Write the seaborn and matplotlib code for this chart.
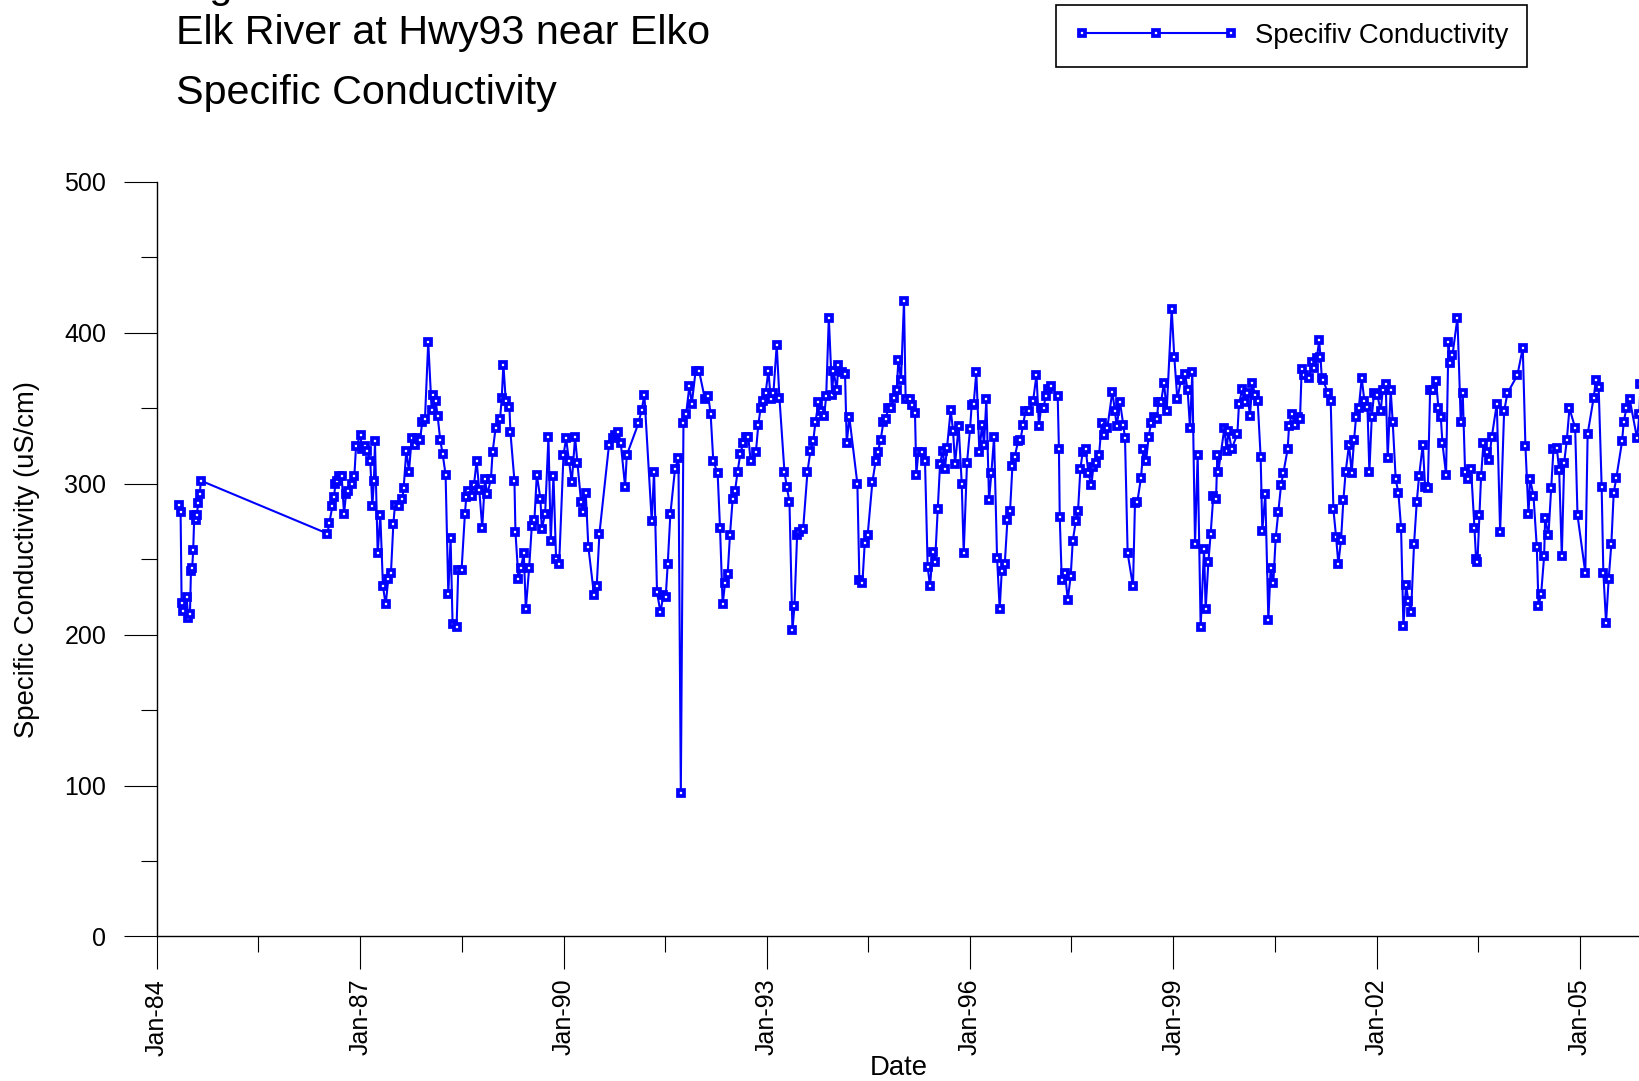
import matplotlib
matplotlib.use("Agg")
import matplotlib.pyplot as plt
import matplotlib.dates as mdates
from matplotlib.ticker import MultipleLocator, FixedLocator
import seaborn as sns
import pandas as pd

# sample dates as decimal years, values in uS/cm
years_84_88 = [1984.330, 1984.349, 1984.364, 1984.389, 1984.438, 1984.462, 1984.487, 1984.502, 1984.520, 1984.535,
               1984.551, 1984.570, 1984.585, 1984.610, 1984.630, 1984.650,
               1986.514, 1986.543, 1986.588, 1986.612, 1986.632, 1986.656, 1986.691, 1986.725, 1986.760, 1986.789,
               1986.824, 1986.873, 1986.912, 1986.937, 1987.006, 1987.020, 1987.070, 1987.104, 1987.148, 1987.178,
               1987.202, 1987.217, 1987.257, 1987.296, 1987.335, 1987.375, 1987.414, 1987.453, 1987.488, 1987.512,
               1987.576, 1987.621, 1987.640, 1987.680, 1987.719, 1987.758, 1987.808, 1987.837, 1987.881, 1987.916,
               1987.955, 1988.004, 1988.054, 1988.078, 1988.113, 1988.142, 1988.181, 1988.216, 1988.260, 1988.300,
               1988.334, 1988.363]
cond_84_88 = [286, 281, 221, 216, 225, 211, 214, 242, 244, 256,
              279, 276, 279, 287, 293, 302,
              267, 274, 285, 291, 300, 302, 305, 305, 280, 293,
              295, 300, 305, 325, 332, 323, 325, 322, 315, 285,
              302, 328, 254, 279, 232, 220, 237, 241, 273, 286,
              285, 290, 297, 322, 308, 330, 326, 330, 329, 341,
              343, 394, 349, 359, 355, 345, 329, 320, 306, 227,
              264, 207]

years_88_92 = [1988.422, 1988.447, 1988.496, 1988.545, 1988.565, 1988.595, 1988.644, 1988.678, 1988.718, 1988.757,
               1988.801, 1988.841, 1988.875, 1988.929, 1988.954, 1988.998, 1989.062, 1989.087, 1989.111, 1989.146,
               1989.200, 1989.215, 1989.274, 1989.289, 1989.333, 1989.368, 1989.412, 1989.442, 1989.491, 1989.530,
               1989.569, 1989.604, 1989.658, 1989.678, 1989.727, 1989.776, 1989.810, 1989.850, 1989.889, 1989.934,
               1989.998, 1990.037, 1990.081, 1990.121, 1990.170, 1990.204, 1990.258, 1990.293, 1990.327, 1990.366,
               1990.450, 1990.489, 1990.529, 1990.671, 1990.726, 1990.760, 1990.809, 1990.844, 1990.908, 1990.933,
               1991.105, 1991.154, 1991.193, 1991.302, 1991.336, 1991.380, 1991.430, 1991.474, 1991.508, 1991.538,
               1991.577, 1991.646, 1991.696, 1991.731, 1991.770, 1991.809, 1991.858, 1991.893, 1991.950, 1992.000,
               1992.088, 1992.138, 1992.172, 1992.211, 1992.275, 1992.310, 1992.349, 1992.384, 1992.423, 1992.457,
               1992.497, 1992.531, 1992.570, 1992.610, 1992.654, 1992.689, 1992.728, 1992.762]
cond_88_92 = [205, 243, 243, 280, 291, 295, 292, 299, 315, 296,
              271, 303, 293, 303, 321, 337, 343, 357, 379, 355,
              351, 334, 302, 268, 237, 244, 254, 217, 244, 272,
              276, 306, 290, 270, 280, 331, 262, 305, 250, 247,
              319, 330, 315, 301, 331, 314, 288, 281, 294, 258,
              226, 232, 267, 326, 330, 332, 334, 327, 298, 319,
              340, 349, 359, 275, 308, 228, 215, 226, 225, 247,
              280, 310, 317, 95, 340, 346, 365, 353, 375, 375,
              356, 358, 346, 315, 307, 271, 220, 234, 240, 266,
              290, 295, 308, 320, 327, 331, 331, 315]

years_92_97 = [1992.840, 1992.875, 1992.909, 1992.944, 1992.983, 1993.022, 1993.057, 1993.096, 1993.145, 1993.185,
               1993.259, 1993.293, 1993.333, 1993.377, 1993.407, 1993.446, 1993.481, 1993.535, 1993.599, 1993.643,
               1993.683, 1993.717, 1993.761, 1993.801, 1993.845, 1993.875, 1993.914, 1993.963, 1993.983, 1994.032,
               1994.055, 1994.115, 1994.154, 1994.179, 1994.218, 1994.336, 1994.366, 1994.410, 1994.445, 1994.488,
               1994.557, 1994.606, 1994.636, 1994.680, 1994.720, 1994.754, 1994.793, 1994.833, 1994.872, 1994.917,
               1994.941, 1994.980, 1995.025, 1995.049, 1995.113, 1995.148, 1995.187, 1995.207, 1995.237, 1995.286,
               1995.335, 1995.374, 1995.409, 1995.448, 1995.483, 1995.522, 1995.557, 1995.596, 1995.630, 1995.660,
               1995.714, 1995.749, 1995.778, 1995.832, 1995.877, 1995.906, 1995.955, 1996.000, 1996.024, 1996.054,
               1996.093, 1996.138, 1996.177, 1996.207, 1996.241, 1996.281, 1996.315, 1996.355, 1996.399, 1996.438,
               1996.468, 1996.513, 1996.552, 1996.591, 1996.626, 1996.660, 1996.709, 1996.744, 1996.783, 1996.818,
               1996.867, 1996.931, 1996.981, 1997.015, 1997.045, 1997.084, 1997.113, 1997.153, 1997.192]
cond_92_97 = [321, 339, 350, 355, 360, 375, 356, 360, 392, 357,
              308, 298, 288, 203, 219, 266, 268, 270, 308, 322,
              328, 341, 354, 348, 345, 358, 410, 359, 375, 362,
              379, 374, 373, 327, 344, 300, 236, 234, 261, 266,
              301, 315, 321, 329, 341, 343, 350, 350, 357, 362,
              382, 369, 421, 356, 356, 352, 347, 306, 321, 321,
              315, 245, 232, 255, 248, 283, 313, 322, 310, 324,
              349, 335, 313, 338, 300, 254, 314, 336, 352, 353,
              374, 321, 339, 326, 356, 289, 307, 331, 251, 217,
              242, 247, 276, 282, 312, 318, 328, 329, 339, 348,
              348, 355, 372, 338, 350, 350, 358, 363, 365]

years_97_01 = [1997.292, 1997.310, 1997.322, 1997.352, 1997.401, 1997.440, 1997.484, 1997.514, 1997.558, 1997.592,
               1997.627, 1997.661, 1997.705, 1997.745, 1997.789, 1997.818, 1997.863, 1997.902, 1997.941, 1997.981,
               1998.025, 1998.099, 1998.138, 1998.163, 1998.212, 1998.261, 1998.286, 1998.325, 1998.404, 1998.433,
               1998.468, 1998.522, 1998.557, 1998.596, 1998.635, 1998.670, 1998.709, 1998.758, 1998.778, 1998.817,
               1998.862, 1998.901, 1998.975, 1999.014, 1999.059, 1999.113, 1999.172, 1999.211, 1999.246, 1999.280,
               1999.320, 1999.359, 1999.403, 1999.453, 1999.477, 1999.517, 1999.551, 1999.590, 1999.630, 1999.650,
               1999.664, 1999.753, 1999.787, 1999.812, 1999.861, 1999.945, 1999.969, 2000.019, 2000.058, 2000.092,
               2000.132, 2000.166, 2000.206, 2000.245, 2000.289, 2000.314, 2000.358, 2000.403, 2000.437, 2000.476,
               2000.511, 2000.550, 2000.590, 2000.624, 2000.688, 2000.708, 2000.747, 2000.796, 2000.836, 2000.870,
               2000.895, 2000.934, 2001.003, 2001.043, 2001.082, 2001.116, 2001.151, 2001.170, 2001.190, 2001.210,
               2001.277, 2001.321, 2001.361, 2001.400, 2001.434, 2001.474]
cond_97_01 = [358, 323, 278, 236, 241, 223, 239, 262, 275, 282,
              310, 321, 323, 307, 299, 311, 314, 319, 340, 332,
              337, 361, 348, 338, 354, 339, 330, 254, 232, 287,
              288, 304, 323, 315, 331, 340, 344, 343, 354, 354,
              367, 348, 416, 384, 356, 369, 373, 362, 337, 374,
              260, 319, 205, 257, 217, 248, 267, 292, 290, 319,
              308, 337, 322, 335, 323, 333, 353, 363, 354, 360,
              345, 367, 359, 355, 318, 269, 293, 210, 244, 234,
              264, 281, 299, 307, 323, 338, 346, 339, 344, 343,
              376, 372, 370, 381, 377, 383, 395, 384, 370, 369,
              360, 355, 283, 265, 247, 263]

years_01_05 = [2001.508, 2001.542, 2001.592, 2001.631, 2001.666, 2001.695, 2001.735, 2001.779, 2001.818, 2001.863,
               2001.892, 2001.927, 2001.961, 2002.010, 2002.060, 2002.089, 2002.134, 2002.163, 2002.207, 2002.237,
               2002.281, 2002.321, 2002.360, 2002.395, 2002.434, 2002.469, 2002.508, 2002.552, 2002.592, 2002.626,
               2002.681, 2002.715, 2002.755, 2002.789, 2002.838, 2002.878, 2002.912, 2002.947, 2002.971, 2003.025,
               2003.060, 2003.084, 2003.119, 2003.193, 2003.242, 2003.271, 2003.306, 2003.355, 2003.394, 2003.444,
               2003.468, 2003.488, 2003.518, 2003.542, 2003.577, 2003.626, 2003.660, 2003.700, 2003.774, 2003.823,
               2003.882, 2003.931, 2004.079, 2004.158, 2004.197, 2004.242, 2004.266, 2004.316, 2004.365, 2004.390,
               2004.429, 2004.473, 2004.488, 2004.537, 2004.577, 2004.611, 2004.660, 2004.695, 2004.734, 2004.769,
               2004.808, 2004.847, 2004.931, 2004.966, 2005.079, 2005.113, 2005.202, 2005.236, 2005.276, 2005.320,
               2005.345, 2005.385, 2005.424, 2005.463, 2005.498, 2005.537, 2005.621, 2005.646, 2005.685, 2005.734,
               2005.843, 2005.877, 2005.892]
cond_01_05 = [289, 308, 326, 307, 329, 344, 350, 370, 355, 351,
              308, 344, 360, 359, 348, 362, 366, 317, 362, 341,
              303, 294, 271, 206, 233, 222, 215, 260, 288, 305,
              326, 298, 297, 362, 362, 368, 350, 344, 327, 306,
              394, 380, 385, 410, 341, 360, 308, 303, 310, 271,
              250, 248, 279, 305, 327, 321, 316, 331, 353, 268,
              348, 360, 372, 390, 325, 280, 303, 292, 258, 219,
              227, 252, 277, 266, 297, 323, 324, 309, 252, 314,
              329, 350, 337, 279, 241, 333, 357, 369, 364, 298,
              241, 208, 237, 260, 294, 304, 328, 341, 350, 356,
              330, 346, 366]

tick_years = [1984, 1987, 1990, 1993, 1996, 1999, 2002, 2005]
title_lines = ["Elk River at Hwy93 near Elko", "Specific Conductivity"]


def to_date(y):
    # decimal year -> timestamp
    yr = int(y)
    return pd.Timestamp(yr, 1, 1) + pd.Timedelta(days=(y - yr) * 365.25)


years = years_84_88 + years_88_92 + years_92_97 + years_97_01 + years_01_05
cond = cond_84_88 + cond_88_92 + cond_92_97 + cond_97_01 + cond_01_05
df = pd.DataFrame({"Date": [to_date(y) for y in years], "Cond": cond})

sns.set_style("ticks")
plt.rcParams["font.family"] = ["Liberation Sans", "DejaVu Sans"]
for k in ["text.color", "axes.labelcolor", "xtick.color", "ytick.color", "axes.edgecolor"]:
    plt.rcParams[k] = "black"

fig = plt.figure(figsize=(16.4, 10.81), dpi=100)
ax = fig.add_axes([0.0957, 0.1337, 0.9043, 0.698])

sns.lineplot(data=df, x="Date", y="Cond", ax=ax, estimator=None, sort=False,
             color="#0000FF", linewidth=1.5, marker="s", markersize=3.9,
             markerfacecolor="white", markeredgecolor="#0000FF", markeredgewidth=2.7,
             label="Specifiv Conductivity")

ax.set_ylim(0, 500)
ax.set_xlim(to_date(1984.0), to_date(2005.886))
ax.yaxis.set_major_locator(MultipleLocator(100))
ax.yaxis.set_minor_locator(MultipleLocator(50))
ax.xaxis.set_major_locator(FixedLocator([mdates.date2num(pd.Timestamp(y, 1, 1)) for y in tick_years]))
ax.xaxis.set_minor_locator(FixedLocator([mdates.date2num(pd.Timestamp(y + 1, 7, 1)) for y in tick_years]))
ax.xaxis.set_major_formatter(mdates.DateFormatter("%b-%y"))

for s in ["top", "right"]:
    ax.spines[s].set_visible(False)
for s in ["left", "bottom"]:
    ax.spines[s].set_color("black")
    ax.spines[s].set_linewidth(1.0)

ax.tick_params(which="both", bottom=True, left=True, direction="out", width=0.8, color="black")
ax.tick_params(which="major", length=23.5, labelsize=18)
ax.tick_params(which="minor", length=11.5)
ax.tick_params(axis="y", which="major", pad=13)
ax.tick_params(axis="x", which="major", pad=7, labelrotation=90)

ax.set_ylabel("Specific Conductivity (uS/cm)", fontsize=19.8)
ax.set_xlabel("Date", fontsize=19.8)
ax.yaxis.set_label_coords(-0.079, 0.5)
ax.xaxis.set_label_coords(0.5, -0.157)

# titles at upper left, top line is cut off by the figure edge
fig.text(0.1073, 1.00185, "Figure", fontsize=29.7, ha="left", va="baseline")
fig.text(0.1073, 1 - 44 / 1081, title_lines[0], fontsize=29.7, ha="left", va="baseline")
fig.text(0.1073, 1 - 103.5 / 1081, title_lines[1], fontsize=29.7, ha="left", va="baseline")

leg = ax.legend(loc="upper left", bbox_to_anchor=(0.6439, 0.9954), bbox_transform=fig.transFigure,
                borderaxespad=0, numpoints=3, handlelength=6.0, handletextpad=0.6, borderpad=0.65,
                fontsize=19.8, frameon=True, fancybox=False, framealpha=1)
leg.get_frame().set_edgecolor("black")
leg.get_frame().set_linewidth(1.2)

fig.savefig("out.png", dpi=100)
